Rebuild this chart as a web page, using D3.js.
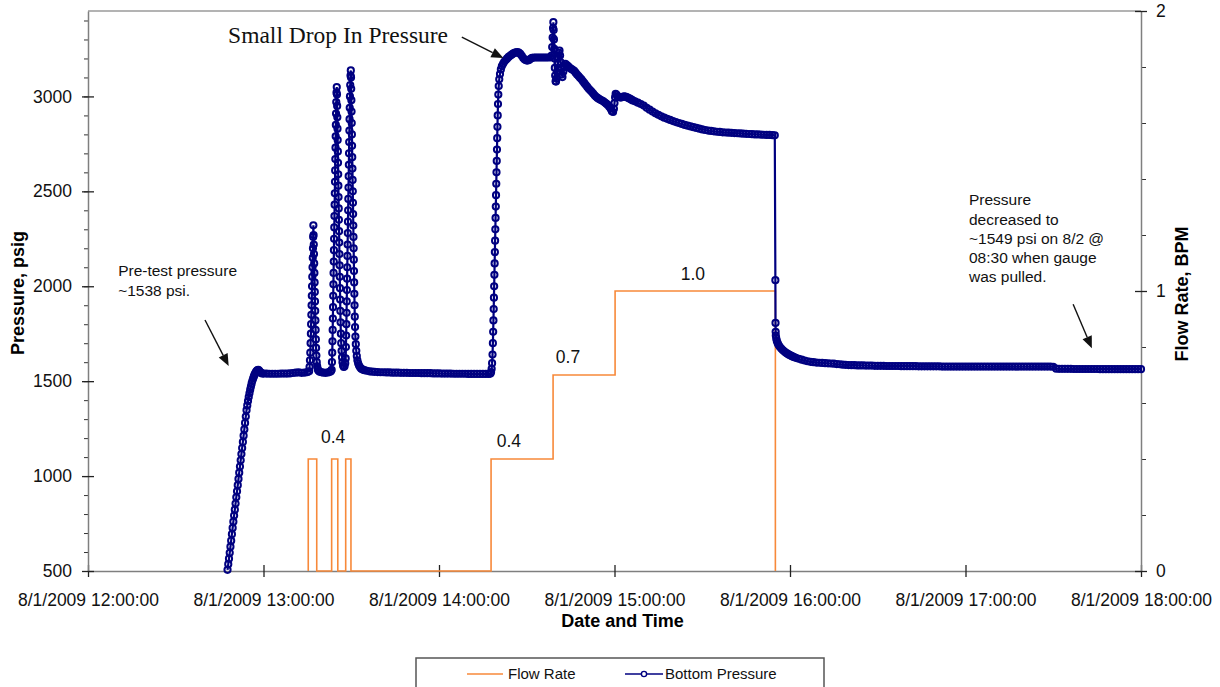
<!DOCTYPE html>
<html>
<head>
<meta charset="utf-8">
<script src="https://cdn.jsdelivr.net/npm/d3@7"></script>
<style>
  html, body { margin: 0; padding: 0; background: #fff; }
  svg { display: block; }
</style>
</head>
<body>
<svg id="chart" width="1220" height="687"></svg>
<script>
// ---- Time base: all series times are minutes after 8/1/2009 12:00:00 ----
const START = new Date(2009, 7, 1, 12, 0, 0);
const at = m => new Date(START.getTime() + m * 60000);

// ---- Axis ticks ----
const timeTicks = [0, 60, 120, 180, 240, 300, 360];
const pressureTicks = [500, 1000, 1500, 2000, 2500, 3000];
const pressureMinorTicks = d3.range(500, 3450, 100);
const flowTicks = [0, 1, 2];
const flowMinorTicks = [0, 0.2, 0.4, 0.6, 0.8, 1, 1.2, 1.4, 1.6, 1.8, 2];

// ---- Flow Rate (BPM), stepped: [minute, rate] ----
const flowRate = [
  [75.3, 0], [75.3, 0.4], [78.2, 0], [83.3, 0.4], [85.4, 0], [88.1, 0.4], [89.9, 0],
  [137.8, 0.4], [159.0, 0.7], [180.2, 1.0], [235.0, 0]
];
// rate labels placed over the steps: [minute, rate, vertical offset]
const flowLabels = [[83.8, 0.4, -16], [143.9, 0.4, -12], [164.1, 0.7, -12], [206.8, 1.0, -11.5]];

// ---- Bottom Pressure (psig): [minute, psi] ----
const pretestRamp = [
  [47.7,506],[47.95,536],[48.2,565],[48.45,596],[48.7,628],[48.95,660],[49.2,694],[49.45,727],
  [49.7,760],[49.95,792],[50.2,823],[50.45,855],[50.7,888],[50.95,920],[51.2,952],[51.45,985],
  [51.7,1018],[51.95,1050],[52.2,1083],[52.45,1116],[52.7,1148],[52.95,1180],[53.2,1213],
  [53.45,1246],[53.7,1280],[53.95,1314],[54.2,1347],[54.45,1372],[54.7,1395],[54.95,1416],
  [55.2,1436],[55.45,1455],[55.7,1472],[55.95,1488],[56.2,1502],[56.45,1514],[56.7,1525],
  [56.95,1534],[57.2,1542],[57.45,1549],[57.7,1554],[57.95,1558],[58.2,1560],[58.5,1556],
  [58.8,1549],[59.1,1544],[59.5,1541],[60.0,1540]
];
const pretestHold = [
  [61,1540],[62,1539],[63,1539],[64,1539],[65,1539],[66,1540],[67,1540],[68,1540],[69,1541],
  [70,1543],[71,1545],[72,1546],[73,1544],[74,1545],[75,1548]
];
const breakdownPulse1 = [
  [75.6,1552],[75.75,1575],[75.88,1610],[76.0,1650],[76.1,1700],[76.2,1750],[76.28,1800],
  [76.36,1850],[76.44,1900],[76.52,1950],[76.6,2000],[76.68,2050],[76.76,2100],[76.84,2150],
  [76.91,2200],[76.98,2260],[77.05,2321],[77.12,2270],[77.19,2220],[77.26,2170],[77.33,2120],
  [77.4,2070],[77.47,2020],[77.54,1970],[77.61,1920],[77.68,1870],[77.75,1820],[77.82,1770],
  [77.9,1720],[77.98,1675],[78.08,1635],[78.2,1600],[78.35,1578],[78.55,1563],[78.8,1555],
  [79.2,1550],[79.8,1547],[80.5,1545],[81.3,1544],[82.1,1546],[82.8,1550],[83.1,1553]
];
const breakdownPulse2 = [
  [83.3,1560],[83.4,1600],[83.5,1650],[83.58,1710],[83.65,1770],[83.72,1830],[83.78,1890],
  [83.84,1950],[83.9,2010],[83.96,2070],[84.02,2130],[84.08,2190],[84.14,2250],[84.2,2310],
  [84.26,2370],[84.32,2430],[84.38,2490],[84.44,2550],[84.5,2610],[84.56,2670],[84.62,2730],
  [84.68,2790],[84.74,2850],[84.8,2910],[84.88,2970],[84.96,3020],[85.05,3049],[85.12,3010],
  [85.18,2950],[85.24,2890],[85.3,2830],[85.36,2770],[85.42,2710],[85.48,2650],[85.54,2590],
  [85.6,2530],[85.66,2470],[85.72,2410],[85.78,2350],[85.84,2290],[85.9,2230],[85.96,2170],
  [86.02,2110],[86.08,2050],[86.14,1990],[86.2,1930],[86.27,1870],[86.35,1810],[86.45,1750],
  [86.57,1700],[86.7,1660],[86.85,1625],[87.0,1600],[87.2,1582],[87.45,1575],[87.7,1578],
  [87.95,1595]
];
const breakdownPulse3 = [
  [88.1,1620],[88.18,1680],[88.26,1740],[88.33,1800],[88.4,1860],[88.46,1920],[88.52,1980],
  [88.58,2040],[88.64,2100],[88.7,2160],[88.76,2220],[88.82,2280],[88.88,2340],[88.94,2400],
  [89.0,2460],[89.06,2520],[89.12,2580],[89.18,2640],[89.24,2700],[89.3,2760],[89.36,2820],
  [89.42,2880],[89.48,2940],[89.56,3000],[89.65,3060],[89.75,3110],[89.85,3137],[89.92,3100],
  [89.98,3040],[90.04,2980],[90.1,2920],[90.16,2860],[90.22,2800],[90.28,2740],[90.34,2680],
  [90.4,2620],[90.46,2560],[90.52,2500],[90.58,2440],[90.64,2380],[90.7,2320],[90.76,2260],
  [90.82,2200],[90.88,2140],[90.94,2080],[91.0,2020],[91.06,1960],[91.13,1900],[91.21,1840],
  [91.3,1785],[91.42,1735],[91.56,1695],[91.72,1660],[91.9,1632],[92.1,1610],[92.35,1594],
  [92.65,1582],[93.0,1573],[93.4,1566],[93.9,1561],[94.5,1558],[95.3,1555],[96.2,1552],
  [97.1,1550],[98.0,1549]
];
const preInjectionHold = [
  [99,1548],[100,1547],[101,1547],[102,1546],[103,1546],[104,1545],[105,1545],[106,1545],
  [107,1544],[108,1544],[109,1544],[110,1543],[111,1543],[112,1543],[113,1543],[114,1542],
  [115,1542],[116,1542],[117,1542],[118,1541],[119,1541],[120,1541],[121,1540],[122,1540],
  [123,1540],[124,1540],[125,1539],[126,1539],[127,1539],[128,1539],[129,1539],[130,1538],
  [131,1538],[132,1538],[133,1538],[134,1538],[135,1538],[136,1538],[137,1538],[137.6,1540]
];
const injectionRise = [
  [137.8,1548],[138.0,1565],[138.15,1595],[138.3,1640],[138.42,1700],[138.52,1760],[138.61,1820],
  [138.7,1880],[138.78,1940],[138.86,2000],[138.94,2060],[139.02,2120],[139.1,2180],[139.18,2240],
  [139.26,2300],[139.34,2360],[139.42,2420],[139.5,2480],[139.58,2540],[139.66,2600],[139.74,2660],
  [139.82,2720],[139.9,2780],[139.98,2840],[140.07,2900],[140.17,2960],[140.28,3010],[140.42,3055],
  [140.6,3090],[140.85,3118],[141.15,3142],[141.5,3160],[141.9,3172],[142.3,3182],[142.8,3192],
  [143.3,3200],[143.8,3208],[144.3,3214],[144.8,3220],[145.3,3225],[145.8,3229],[146.3,3232],
  [146.8,3233],[147.3,3231],[147.8,3224],[148.3,3214],[148.8,3202],[149.3,3194],[149.8,3190],
  [150.3,3189],[150.8,3192],[151.3,3198],[151.8,3203],[152.5,3205],[153.2,3205],[153.9,3205],
  [154.6,3205],[155.3,3205],[156.0,3205],[156.7,3205],[157.4,3205],[158.1,3206],[158.5,3215]
];
const injectionSteps = [
  [158.7,3260],[158.85,3310],[159.0,3360],[159.1,3391],[159.2,3350],[159.3,3300],[159.4,3250],
  [159.5,3200],[159.6,3150],[159.72,3110],[159.86,3080],[160.0,3078],[160.2,3095],[160.4,3130],
  [160.6,3170],[160.8,3205],[161.0,3230],[161.2,3242],[161.4,3215],[161.6,3180],[161.8,3145],
  [162.0,3115],[162.2,3102],[162.5,3130],[162.8,3160],[163.2,3172],[163.7,3165],[164.2,3158],
  [164.7,3150],[165.2,3145],[165.7,3140],[166.2,3135],[166.7,3125],[167.2,3115],[167.7,3107],
  [168.2,3098],[168.7,3090],[169.2,3080],[169.7,3070],[170.2,3060],[170.7,3050],[171.2,3040],
  [171.7,3032],[172.2,3024],[172.7,3015],[173.2,3006],[173.7,2998],[174.2,2992],[174.7,2987],
  [175.2,2982],[175.7,2978],[176.2,2974],[176.7,2968],[177.2,2962],[177.7,2955],[178.2,2946],
  [178.7,2935],[179.1,2922],[179.5,2918],[179.8,2935],[180.0,2965],[180.2,2995],[180.4,3014],
  [180.7,3008],[181.2,3000],[181.7,2996],[182.2,2994],[182.7,2997],[183.2,3000],[183.7,2999],
  [184.2,2996],[184.7,2992],[185.2,2988],[185.7,2984],[186.2,2979],[187,2974],[188,2967],
  [189,2960],[190,2952],[191,2940],[192,2930],[193,2920],[194,2911],[195,2903],[196,2895],
  [197,2888],[198,2882],[199,2876],[200,2870],[201,2865],[202,2860],[203,2855],[204,2850],
  [205,2846],[206,2842],[207,2838],[208,2834],[209,2830],[210,2826],[211,2823],[212,2820],
  [213,2818],[214,2816],[215,2814],[216,2813],[217,2811],[218,2810],[219,2809],[220,2808],
  [221,2807],[222,2806],[223,2805],[224,2804],[225,2803],[226,2802],[227,2801],[228,2800],
  [229,2800],[230,2799],[231,2798],[232,2797],[233,2797],[234,2796],[234.8,2795]
];
const shutInFalloff = [
  [235.0,2032],[235.05,1807],[235.1,1760],[235.15,1740],[235.3,1725],[235.5,1712],[235.8,1700],
  [236.1,1690],[236.5,1681],[237.0,1672],[237.5,1664],[238.0,1657],[238.5,1651],[239.0,1646],
  [239.5,1641],[240.0,1637],[240.5,1633],[241.0,1629],[241.5,1626],[242,1623],[243,1618],
  [244,1613],[245,1609],[246,1605],[247,1602],[248,1600],[249,1598],[250,1597],[251,1596],
  [252,1595],[253,1594],[254,1593],[255,1592],[256,1590],[257,1589],[258,1587],[259,1586],
  [260,1585],[261,1584],[262,1584],[263,1583],[264,1583],[265,1583],[266,1582],[267,1582],
  [268,1582],[269,1581],[270,1581],[271,1581],[272,1581],[273,1580],[274,1580],[275,1580],
  [276,1580],[277,1580],[278,1579],[279,1579],[280,1579],[281,1579],[282,1579],[283,1579],
  [284,1578],[285,1578],[286,1578],[287,1578],[288,1578],[289,1578],[290,1578],[291,1578],
  [292,1577],[293,1577],[294,1577],[295,1577],[296,1577],[297,1577],[298,1577],[299,1577],
  [300,1577],[301,1577],[302,1577],[303,1577],[304,1577],[305,1577],[306,1577],[307,1577],
  [308,1577],[309,1577],[310,1577],[311,1577],[312,1577],[313,1577],[314,1577],[315,1577],
  [316,1577],[317,1577],[318,1577],[319,1577],[320,1577],[321,1577],[322,1577],[323,1577],
  [324,1577],[325,1577],[326,1577],[327,1577],[328,1577],[329,1577],[330,1576],[331,1566],
  [332,1565],[333,1565],[334,1565],[335,1565],[336,1565],[337,1564],[338,1564],[339,1564],
  [340,1564],[341,1564],[342,1564],[343,1564],[344,1564],[345,1564],[346,1563],[347,1563],
  [348,1563],[349,1563],[350,1563],[351,1563],[352,1563],[353,1563],[354,1563],[355,1563],
  [356,1563],[357,1563],[358,1563],[359,1563],[360,1563]
];
const bottomPressure = [].concat(
  pretestRamp, pretestHold, breakdownPulse1, breakdownPulse2, breakdownPulse3,
  preInjectionHold, injectionRise, injectionSteps, shutInFalloff
);

// ---- Notes, anchored in data coordinates: [minute, psi] ----
const notes = [
  { lines: ["Small Drop In Pressure"], at: [47.9, 3279], serif: true, size: 23.5, lead: 0,
    from: [127.8, 3312], to: [142.0, 3202] },
  { lines: ["Pre-test pressure", "~1538 psi."], at: [10.3, 2055], size: 15.5, lead: 20,
    from: [40.0, 1822], to: [48.1, 1580] },
  { lines: ["Pressure", "decreased to", "~1549 psi on 8/2 @", "08:30 when gauge", "was pulled."],
    at: [301.2, 2426], size: 15.5, lead: 19.2,
    from: [336.8, 1905], to: [343.2, 1673] }
];

// ---- Layout ----
const SANS = '"Liberation Sans", Arial, sans-serif';
const SERIF = '"Liberation Serif", "Times New Roman", serif';
const plot = { left: 88, right: 1141, top: 11, bottom: 571 };
const PRESSURE_COLOR = "#000080";
const FLOW_COLOR = "#f7893a";

const svg = d3.select("#chart");

const x = d3.scaleTime().domain([at(0), at(360)]).range([plot.left, plot.right]);
const yP = d3.scaleLinear().domain([500, 3450]).range([plot.bottom, plot.top]);
const yF = d3.scaleLinear().domain([0, 2]).range([plot.bottom, plot.top]);
const px = m => x(at(m));

// top edge of plot frame
svg.append("line")
  .attr("x1", plot.left).attr("x2", plot.right)
  .attr("y1", plot.top).attr("y2", plot.top)
  .attr("stroke", "#9a9a9a").attr("stroke-width", 1.3);

// minor ticks (left / right)
const minorL = svg.append("g").attr("transform", `translate(${plot.left},0)`)
  .call(d3.axisLeft(yP).tickValues(pressureMinorTicks).tickSize(4).tickFormat(""));
minorL.select(".domain").remove();
minorL.selectAll("line").attr("stroke", "#333");

const minorR = svg.append("g").attr("transform", `translate(${plot.right},0)`)
  .call(d3.axisRight(yF).tickValues(flowMinorTicks).tickSize(5).tickFormat(""));
minorR.select(".domain").remove();
minorR.selectAll("line").attr("stroke", "#333");

// x axis
const fmt = d3.timeFormat("%-m/%-d/%Y %H:%M:%S");
const gx = svg.append("g").attr("transform", `translate(0,${plot.bottom})`)
  .call(d3.axisBottom(x).tickValues(timeTicks.map(at)).tickFormat(fmt).tickSizeOuter(0));
gx.attr("font-family", SANS).attr("font-size", 17.5);
gx.select(".domain").attr("stroke", "#7f7f7f").attr("stroke-width", 1.5);
gx.selectAll(".tick line").attr("y1", -6).attr("y2", 6).attr("stroke", "#222").attr("stroke-width", 1.3);
gx.selectAll(".tick text").attr("y", 35).attr("dy", null).attr("fill", "#111");

// left axis
const gl = svg.append("g").attr("transform", `translate(${plot.left},0)`)
  .call(d3.axisLeft(yP).tickValues(pressureTicks).tickFormat(d3.format("d")).tickSizeOuter(0));
gl.attr("font-family", SANS).attr("font-size", 17.5);
gl.select(".domain").attr("stroke", "#7f7f7f").attr("stroke-width", 1.5);
gl.selectAll(".tick line").attr("x1", -6).attr("x2", 6).attr("stroke", "#222").attr("stroke-width", 1.3);
gl.selectAll(".tick text").attr("x", -16).attr("fill", "#111");

// right axis
const gr = svg.append("g").attr("transform", `translate(${plot.right},0)`)
  .call(d3.axisRight(yF).tickValues(flowTicks).tickFormat(d3.format("d")).tickSizeOuter(0));
gr.attr("font-family", SANS).attr("font-size", 17.5);
gr.select(".domain").attr("stroke", "#7f7f7f").attr("stroke-width", 1.5);
gr.selectAll(".tick line").attr("x1", -6).attr("x2", 6).attr("stroke", "#222").attr("stroke-width", 1.3);
gr.selectAll(".tick text").attr("x", 15).attr("fill", "#111");

// axis titles
svg.append("text")
  .attr("transform", `translate(24,${(plot.top + plot.bottom) / 2 + 2}) rotate(-90)`)
  .attr("text-anchor", "middle").attr("font-family", SANS).attr("font-weight", "bold")
  .attr("font-size", 18).text("Pressure, psig");
svg.append("text")
  .attr("transform", `translate(1188,${(plot.top + plot.bottom) / 2 + 3}) rotate(-90)`)
  .attr("text-anchor", "middle").attr("font-family", SANS).attr("font-weight", "bold")
  .attr("font-size", 18).text("Flow Rate, BPM");
svg.append("text")
  .attr("x", (plot.left + plot.right) / 2 + 8).attr("y", 627)
  .attr("text-anchor", "middle").attr("font-family", SANS).attr("font-weight", "bold")
  .attr("font-size", 18).text("Date and Time");

// flow rate (secondary axis), stepped
svg.append("path").datum(flowRate)
  .attr("d", d3.line().curve(d3.curveStepAfter).x(d => px(d[0])).y(d => yF(d[1])))
  .attr("fill", "none").attr("stroke", FLOW_COLOR).attr("stroke-width", 1.6);

svg.append("g").selectAll("text").data(flowLabels).join("text")
  .attr("x", d => px(d[0])).attr("y", d => yF(d[1]) + d[2])
  .attr("text-anchor", "middle").attr("font-family", SANS).attr("font-size", 17.5)
  .attr("fill", "#111").text(d => d3.format(".1f")(d[1]));

// bottom pressure line with open circle markers
svg.append("path").datum(bottomPressure)
  .attr("d", d3.line().x(d => px(d[0])).y(d => yP(d[1])))
  .attr("fill", "none").attr("stroke", PRESSURE_COLOR).attr("stroke-width", 2.2);
svg.append("g").selectAll("circle").data(bottomPressure).join("circle")
  .attr("cx", d => px(d[0])).attr("cy", d => yP(d[1])).attr("r", 3.1)
  .attr("fill", "none").attr("stroke", PRESSURE_COLOR).attr("stroke-width", 2);

// notes with arrows
function arrow(g, x1, y1, x2, y2) {
  const a = Math.atan2(y2 - y1, x2 - x1), L = 12, w = 5;
  const bx = x2 - L * Math.cos(a), by = y2 - L * Math.sin(a);
  g.append("line").attr("x1", x1).attr("y1", y1).attr("x2", bx).attr("y2", by)
    .attr("stroke", "#111").attr("stroke-width", 1.4);
  g.append("path")
    .attr("d", `M${x2},${y2}L${bx - w * Math.sin(a)},${by + w * Math.cos(a)}L${bx + w * Math.sin(a)},${by - w * Math.cos(a)}Z`)
    .attr("fill", "#111");
}
notes.forEach(n => {
  const g = svg.append("g");
  const t = g.append("text")
    .attr("font-family", n.serif ? SERIF : SANS).attr("font-size", n.size).attr("fill", "#111");
  n.lines.forEach((s, i) => {
    t.append("tspan").attr("x", px(n.at[0])).attr("y", yP(n.at[1]) + i * n.lead).text(s);
  });
  arrow(g, px(n.from[0]), yP(n.from[1]), px(n.to[0]), yP(n.to[1]));
});

// legend
const lg = svg.append("g");
lg.append("rect").attr("x", 416).attr("y", 658).attr("width", 408).attr("height", 45)
  .attr("fill", "#fff").attr("stroke", "#555").attr("stroke-width", 1.5);
lg.append("line").attr("x1", 467).attr("x2", 503).attr("y1", 674).attr("y2", 674)
  .attr("stroke", FLOW_COLOR).attr("stroke-width", 1.6);
lg.append("text").attr("x", 508).attr("y", 679).attr("font-family", SANS).attr("font-size", 15)
  .attr("fill", "#111").text("Flow Rate");
lg.append("line").attr("x1", 625).attr("x2", 663).attr("y1", 674).attr("y2", 674)
  .attr("stroke", PRESSURE_COLOR).attr("stroke-width", 1.4);
lg.append("circle").attr("cx", 644).attr("cy", 674).attr("r", 2.6)
  .attr("fill", "#fff").attr("stroke", PRESSURE_COLOR).attr("stroke-width", 1.4);
lg.append("text").attr("x", 665).attr("y", 679).attr("font-family", SANS).attr("font-size", 15)
  .attr("fill", "#111").text("Bottom Pressure");
</script>
</body>
</html>
